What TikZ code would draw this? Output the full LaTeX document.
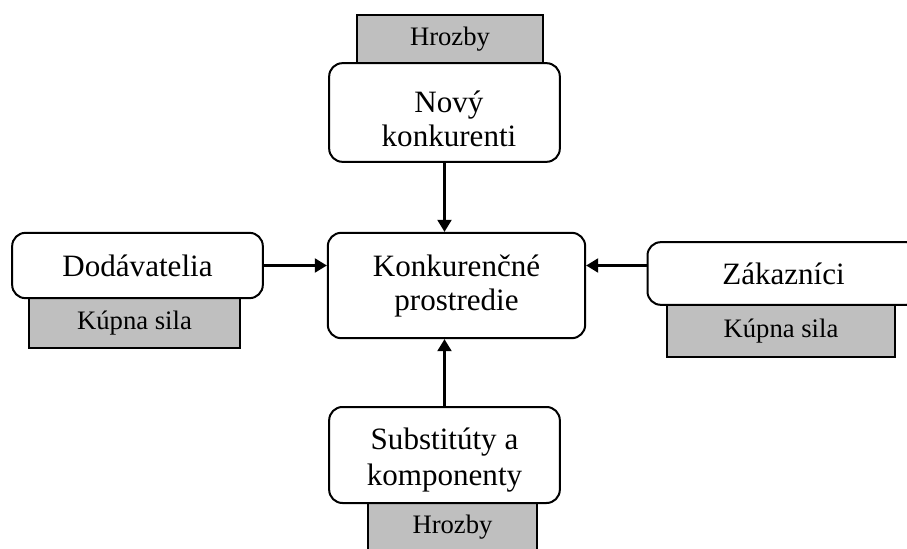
\documentclass[tikz,border=0pt]{standalone}
\usepackage{fontspec}
\setmainfont{Liberation Serif}
\usepackage{tikz}
\usetikzlibrary{arrows.meta,positioning}

\tikzset{
  forcebox/.style={draw, line width=1.5pt, rounded corners=10pt, fill=white, align=center,
    inner sep=0pt, font=\fontsize{23.3}{25.5}\selectfont},
  forcetext/.style={align=center, inner sep=0pt},
  tagbox/.style={draw, line width=1.5pt, fill=gray!50, inner sep=0pt,
    font=\fontsize{20}{24}\selectfont},
  conn/.style={line width=1.6pt, -{Triangle[length=9pt,width=10.5pt]}}
}

\begin{document}
\begin{tikzpicture}[x=0.75pt,y=0.75pt,yscale=-1,xscale=1]
        \useasboundingbox (0,0) rectangle (907,549); %set diagram size 907 x 549
        %Shape: Rectangle [id:tag top] 
        \node [tagbox, minimum width=139.5pt, minimum height=36pt] (nthr) at (450,39) {Hrozby};
        %Shape: Rectangle [id:tag left] 
        \node [tagbox, minimum width=158pt, minimum height=37.5pt] (nsupf) at (134.5,323) {Kúpna sila};
        %Shape: Rectangle [id:tag right] 
        \node [tagbox, minimum width=171pt, minimum height=39pt] (ncusf) at (781,331) {Kúpna sila};
        %Shape: Rectangle [id:tag bottom] 
        \node [tagbox, minimum width=127pt, minimum height=36pt] (nsubf) at (452.5,527) {Hrozby};
        %Rounded Rect [id:new entrants] 
        \node [forcebox, minimum width=173pt, minimum height=74pt] (nnew) at (444.5,112.5) {};
        \node [forcetext, font=\fontsize{23.3}{25.5}\selectfont] (nnewtxt) at (449,118.5) {Nový\\konkurenti};
        %Rounded Rect [id:rivalry] 
        \node [forcebox, minimum width=193pt, minimum height=79pt] (ncore) at (456.5,285.5) {Konkurenčné\\prostredie};
        %Rounded Rect [id:suppliers] 
        \node [forcebox, minimum width=188pt, minimum height=49pt] (nsup) at (137.5,265.5) {Dodávatelia};
        %Rounded Rect [id:buyers] 
        \node [forcebox, minimum width=204pt, minimum height=47pt] (ncus) at (783.5,273.5) {Zákazníci};
        %Rounded Rect [id:substitutes] 
        \node [forcebox, minimum width=173pt, minimum height=72pt] (nsub) at (444.5,455) {};
        \node [forcetext, font=\fontsize{23.3}{27}\selectfont] (nsubtxt) at (444.5,460) {Substitúty a\\komponenty};
        %Straight Lines [id:arrows] 
        \draw [conn] (nnew.south) -- (nnew.south |- ncore.north);
        \draw [conn] (nsub.north) -- (nsub.north |- ncore.south);
        \draw [conn] (nsup.east) -- (nsup.east -| ncore.west);
        \draw [conn] (ncus.west |- nsup.east) -- (ncore.east |- nsup.east);
\end{tikzpicture}
\end{document}
